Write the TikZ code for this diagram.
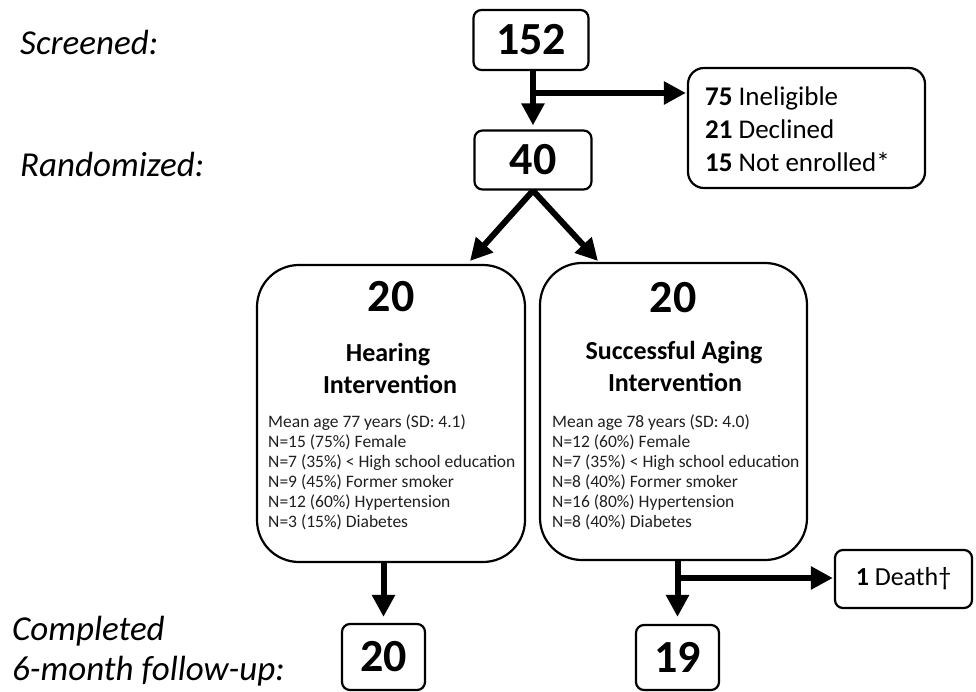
\documentclass[tikz,border=0pt]{standalone}
\usepackage{fontspec}
\setmainfont{Carlito}
\usetikzlibrary{arrows.meta}
\begin{document}
\begin{tikzpicture}[x=1pt,y=-1pt,
  box/.style={draw, line width=2.2pt, rounded corners=8pt, inner sep=0pt},
  bigbox/.style={draw, line width=2.2pt, rounded corners=42pt, minimum width=268pt, minimum height=297pt, inner sep=0pt},
  flow/.style={line width=6pt, -{Triangle[length=22pt,width=22pt]}},
  bignum/.style={font=\bfseries\fontsize{46}{46}\selectfont, inner sep=0pt},
  head/.style={font=\bfseries\fontsize{26}{26}\selectfont, inner sep=0pt, anchor=base},
  detail/.style={font=\fontsize{17.5}{20}\selectfont, inner sep=0pt, anchor=base west, text=black!88},
  side/.style={font=\itshape\fontsize{35}{35}\selectfont, inner sep=0pt, anchor=base west},
  excltext/.style={font=\fontsize{27}{27}\selectfont, inner sep=0pt, anchor=base west}
]
\useasboundingbox (0,0) rectangle (976,692);

% side labels
\node[side] (lscr) at (20,55) {Screened:};
\node[side] (lrand) at (20,177) {Randomized:};
\node[side] (lcomp) at (12,640) {Completed};
\node[side] (lfol) at (12,680) {6-month follow-up:};

% top boxes
\node[box, bignum, minimum width=115pt, minimum height=60pt] (n152) at (531,40) {152};
\node[box, bignum, minimum width=117pt, minimum height=59pt] (n40) at (533,160) {40};
\node[box, minimum width=237pt, minimum height=120pt, rounded corners=16pt] (excl) at (806.5,128) {};
\node[excltext] (ex1) at (705,106) {\textbf{75} Ineligible};
\node[excltext] (ex2) at (705,139) {\textbf{21} Declined};
\node[excltext] (ex3) at (705,172) {\textbf{15} Not enrolled*};

% big boxes
\node[bigbox] (lbox) at (391,413.5) {};
\node[bigbox, minimum width=267pt] (rbox) at (673.5,411.5) {};

\node[bignum] (l20) at (391,297) {20};
\node[head] (lh1) at (388,361) {Hearing};
\node[head] (lh2) at (390,393) {Intervention};

\node[bignum] (r20) at (673,298) {20};
\node[head] (rh1) at (674,359) {Successful Aging};
\node[head] (rh2) at (675,391) {Intervention};

\node[detail] (ld1) at (268,427) {Mean age 77 years (SD: 4.1)};
\node[detail] (ld2) at (268,447) {N=15 (75\%) Female};
\node[detail] (ld3) at (268,467) {N=7 (35\%) < High school education};
\node[detail] (ld4) at (268,487) {N=9 (45\%) Former smoker};
\node[detail] (ld5) at (268,507) {N=12 (60\%) Hypertension};
\node[detail] (ld6) at (268,527) {N=3 (15\%) Diabetes};

\node[detail] (rd1) at (552,427) {Mean age 78 years (SD: 4.0)};
\node[detail] (rd2) at (552,447) {N=12 (60\%) Female};
\node[detail] (rd3) at (552,467) {N=7 (35\%) < High school education};
\node[detail] (rd4) at (552,487) {N=8 (40\%) Former smoker};
\node[detail] (rd5) at (552,507) {N=16 (80\%) Hypertension};
\node[detail] (rd6) at (552,527) {N=8 (40\%) Diabetes};

% bottom boxes
\node[box, bignum, minimum width=83pt, minimum height=66pt] (f20) at (383.5,657) {20};
\node[box, bignum, minimum width=83pt, minimum height=65pt] (f19) at (677.5,657.5) {19};
\node[box, font=\fontsize{26}{26}\selectfont, minimum width=137pt, minimum height=58pt] (death) at (903.5,579) {\textbf{1} Death†};

% connectors
\draw[flow, shorten >=4pt] (n152.south -| n40.south) -- (n40.north);
\coordinate (b1) at (533,93);
\draw[flow, shorten >=1pt] (b1) -- (b1 -| excl.west);

\coordinate (tl) at (470,261);
\coordinate (tr) at (598,261);
\draw[flow] (n40.south) -- (tl);
\draw[flow] (n40.south) -- (tr);

\draw[flow, shorten >=6pt] (f20.north |- lbox.south) -- (f20.north);
\draw[flow, shorten >=7pt] (f19.north |- rbox.south) -- (f19.north);
\coordinate (b2) at (677.5,578);
\draw[flow, shorten >=1pt] (b2) -- (b2 -| death.west);
\end{tikzpicture}
\end{document}
